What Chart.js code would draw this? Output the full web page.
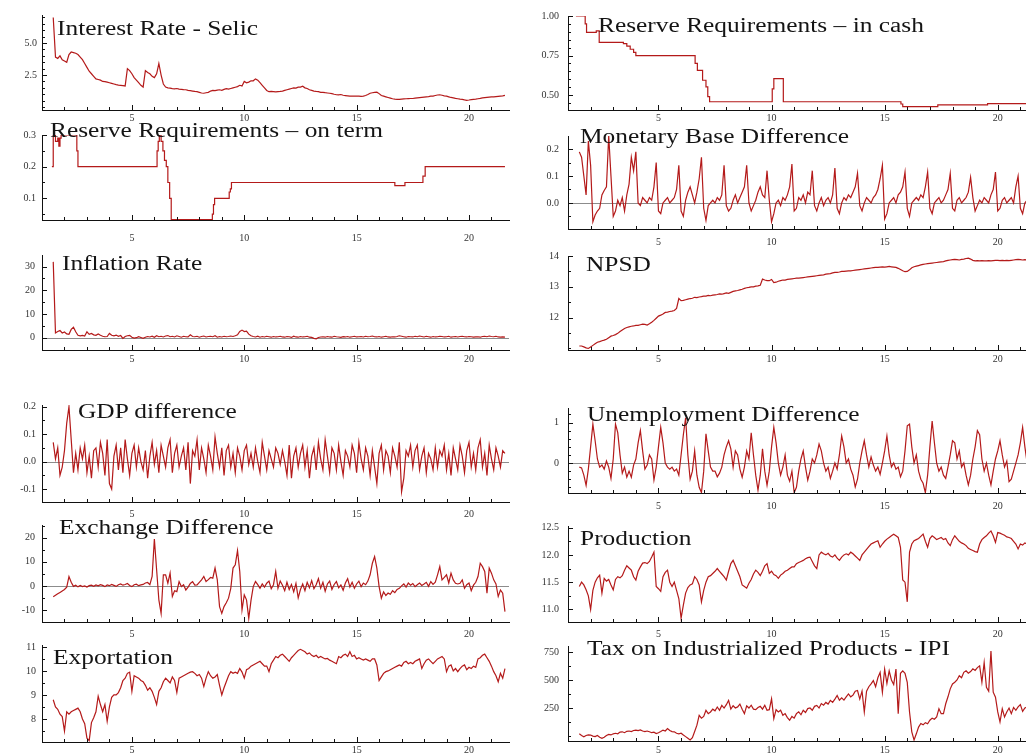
<!DOCTYPE html>
<html><head><meta charset="utf-8">
<script src="https://cdn.jsdelivr.net/npm/chart.js@4.4.1/dist/chart.umd.min.js"></script>
<style>
html,body{margin:0;padding:0;background:#fff;width:1026px;height:754px;overflow:hidden;position:relative}
canvas{position:absolute}
.ttl{position:absolute;font-family:'Liberation Serif','Times New Roman',serif;font-size:20px;line-height:20px;color:#141414;white-space:nowrap;transform-origin:0 0;transform:scaleX(1.27);z-index:2}
</style></head><body>
<script>
// ---- shared time axis (years index) ----
const t = [
1.5,1.6,1.7,1.8,1.9,2.0,2.1,2.2,2.3,2.4,
2.5,2.6,2.7,2.8,2.9,3.0,3.1,3.2,3.3,3.4,
3.5,3.6,3.7,3.8,3.9,4.0,4.1,4.2,4.3,4.4,
4.5,4.6,4.7,4.8,4.9,5.0,5.1,5.2,5.3,5.4,
5.5,5.6,5.7,5.8,5.9,6.0,6.1,6.2,6.3,6.4,
6.5,6.6,6.7,6.8,6.9,7.0,7.1,7.2,7.3,7.4,
7.5,7.6,7.7,7.8,7.9,8.0,8.1,8.2,8.3,8.4,
8.5,8.6,8.7,8.8,8.9,9.0,9.1,9.2,9.3,9.4,
9.5,9.6,9.7,9.8,9.9,10.0,10.1,10.2,10.3,10.4,
10.5,10.6,10.7,10.8,10.9,11.0,11.1,11.2,11.3,11.4,
11.5,11.6,11.7,11.8,11.9,12.0,12.1,12.2,12.3,12.4,
12.5,12.6,12.7,12.8,12.9,13.0,13.1,13.2,13.3,13.4,
13.5,13.6,13.7,13.8,13.9,14.0,14.1,14.2,14.3,14.4,
14.5,14.6,14.7,14.8,14.9,15.0,15.1,15.2,15.3,15.4,
15.5,15.6,15.7,15.8,15.9,16.0,16.1,16.2,16.3,16.4,
16.5,16.6,16.7,16.8,16.9,17.0,17.1,17.2,17.3,17.4,
17.5,17.6,17.7,17.8,17.9,18.0,18.1,18.2,18.3,18.4,
18.5,18.6,18.7,18.8,18.9,19.0,19.1,19.2,19.3,19.4,
19.5,19.6,19.7,19.8,19.9,20.0,20.1,20.2,20.3,20.4,
20.5,20.6,20.7,20.8,20.9,21.0,21.1,21.2,21.3,21.4,
21.5,21.6];
const xTicks = [5, 10, 15, 20];

// ---- series ----
const selic = [
7.0,3.9,3.8,4.0,3.7,3.6,3.5,4.1,4.3,4.25,
4.2,4.1,3.9,3.7,3.4,3.1,2.8,2.6,2.4,2.2,
2.15,2.1,2.0,1.98,1.95,1.9,1.85,1.8,1.75,1.72,
1.7,1.68,1.65,3.0,2.85,2.6,2.3,2.1,1.9,1.7,
1.56,2.85,2.7,2.6,2.4,2.3,2.6,3.4,2.5,1.8,
1.56,1.5,1.48,1.44,1.42,1.45,1.4,1.38,1.36,1.35,
1.3,1.28,1.25,1.22,1.2,1.15,1.1,1.08,1.12,1.15,
1.25,1.3,1.28,1.32,1.35,1.3,1.38,1.44,1.4,1.45,
1.5,1.55,1.6,1.7,1.65,2.0,1.9,1.95,2.05,2.05,
2.2,2.1,1.9,1.7,1.5,1.3,1.2,1.22,1.2,1.18,
1.2,1.22,1.25,1.3,1.35,1.4,1.45,1.5,1.48,1.56,
1.56,1.63,1.5,1.45,1.35,1.3,1.25,1.22,1.2,1.15,
1.15,1.12,1.1,1.08,1.05,1.0,0.96,0.95,0.98,0.92,
0.9,0.88,0.86,0.85,0.86,0.85,0.85,0.84,0.85,0.9,
0.98,1.08,1.12,1.15,1.16,1.05,0.9,0.85,0.8,0.75,
0.7,0.65,0.62,0.6,0.6,0.62,0.64,0.65,0.66,0.67,
0.67,0.7,0.72,0.74,0.76,0.78,0.8,0.82,0.85,0.85,
0.9,0.94,0.96,0.92,0.88,0.85,0.8,0.75,0.72,0.68,
0.65,0.62,0.6,0.56,0.53,0.55,0.58,0.6,0.62,0.65,
0.68,0.72,0.74,0.76,0.78,0.8,0.8,0.82,0.84,0.86,
0.88,0.91];

const rrTermX = [1.44,1.5,1.6,1.7,1.75,1.8,1.85,2.55,2.6,6.12,6.17,6.22,6.3,6.38,6.45,6.53,6.6,6.68,6.75,8.58,8.63,8.68,9.33,9.38,9.43,16.7,17.15,17.95,18.05,21.6];
const rrTermY = [0.2,0.3,0.28,0.29,0.265,0.29,0.3,0.25,0.2,0.25,0.28,0.3,0.28,0.25,0.22,0.2,0.15,0.1,0.033,0.05,0.08,0.1,0.12,0.13,0.15,0.14,0.15,0.17,0.2,0.2];

const inflation = [
32,2.0,2.6,3.0,2.0,2.4,1.6,1.4,3.5,4.4,
2.5,1.0,0.8,1.0,0.7,2.5,1.4,1.8,1.2,1.0,
1.6,1.0,0.6,0.4,0.5,1.8,1.0,0.8,1.1,0.6,
0.9,-0.3,0.5,0.8,1.0,0.2,-0.2,0.0,0.4,0.1,
-0.3,0.2,0.5,0.3,0.6,0.2,0.8,0.4,0.6,0.3,
0.7,0.9,0.4,0.6,0.3,0.8,0.5,0.2,0.6,0.4,
0.3,1.2,0.5,0.4,0.6,0.2,0.5,0.7,0.3,0.5,
0.6,0.4,0.8,0.2,0.5,0.3,0.6,0.4,0.5,0.7,
0.5,0.8,1.2,2.6,3.2,2.6,2.8,1.5,0.8,0.5,
0.3,0.6,0.2,0.5,0.3,0.6,0.4,0.2,0.5,0.3,
0.4,0.6,0.3,0.2,0.5,0.4,0.1,0.6,0.3,0.2,
0.5,0.3,0.4,0.6,0.2,0.1,-0.3,-0.5,0.1,0.3,
0.4,0.2,0.5,0.3,0.2,0.6,0.4,0.3,0.1,0.4,
0.3,0.5,0.2,0.4,0.6,0.3,0.4,0.5,0.3,0.6,
0.4,0.5,0.7,0.4,0.3,0.5,0.2,0.4,0.6,0.3,
0.2,0.4,0.3,0.5,0.8,0.6,0.4,0.2,0.5,0.4,
0.3,0.6,0.4,0.7,0.5,0.3,0.6,0.4,0.2,0.5,
0.3,0.4,0.6,0.5,0.3,0.4,0.6,0.2,0.4,0.5,
0.3,0.5,0.6,0.4,0.3,0.5,0.4,0.2,0.3,0.4,
0.2,0.5,0.6,0.4,0.7,0.5,0.4,0.6,0.3,0.2,
0.3,0.2];

const gdpDiff = [
0.07,0.01,0.05,-0.05,-0.02,0.04,0.14,0.2,0.08,-0.04,
0.03,-0.03,0.05,0.01,0.06,-0.04,0.02,-0.06,0.04,0.05,
-0.02,0.07,0.03,-0.05,0.08,-0.08,-0.1,0.02,0.06,-0.03,
0.05,-0.04,0.08,0.01,-0.05,0.03,0.06,-0.02,0.05,0.0,
-0.03,0.04,-0.06,0.02,0.07,-0.01,0.04,-0.04,0.06,0.02,
-0.02,0.05,0.08,-0.04,0.03,0.06,-0.02,0.02,0.05,-0.03,
0.07,-0.08,0.04,0.02,0.08,-0.03,0.05,0.01,-0.04,0.06,
0.02,-0.03,0.09,0.03,-0.02,0.05,-0.05,0.04,0.06,-0.02,
0.03,-0.04,0.05,0.02,-0.03,0.04,0.06,-0.01,0.03,-0.02,
0.05,0.0,-0.04,0.07,0.02,-0.03,0.04,0.01,-0.02,0.05,
0.03,-0.01,0.04,0.0,-0.05,0.06,-0.06,0.02,0.05,-0.02,
0.03,0.06,-0.02,0.04,-0.06,0.02,0.05,-0.03,0.07,0.01,
-0.03,0.08,0.02,-0.04,0.05,0.03,-0.03,0.06,0.0,-0.05,
0.04,0.02,-0.02,0.06,0.03,-0.04,0.07,0.01,-0.03,0.05,
0.02,-0.05,0.04,-0.02,-0.08,0.03,0.06,-0.03,0.04,0.02,
-0.04,0.05,0.02,-0.02,0.07,-0.11,-0.06,0.04,0.02,0.06,
-0.02,0.04,0.06,-0.03,0.02,0.05,-0.04,0.03,0.01,-0.03,
0.05,-0.02,0.04,0.02,0.06,-0.03,0.03,-0.05,0.05,0.01,
-0.03,0.06,0.02,-0.04,0.04,0.07,-0.02,0.03,-0.03,0.05,
0.08,-0.02,0.03,-0.05,0.06,0.01,-0.03,0.05,0.02,-0.02,
0.04,0.03];

const exchDiff = [
-4.5,-3.9,-3.3,-2.7,-2.1,-1.5,-0.5,3.9,1.5,-0.2,
0.3,-0.4,0.2,-0.3,0.0,-0.5,0.1,0.3,-0.2,0.4,
0.0,0.5,0.2,-0.3,0.4,0.1,0.6,0.2,-0.2,0.5,
0.8,0.3,0.6,1.0,0.2,-0.3,0.5,0.7,0.1,0.4,
0.6,1.2,1.4,0.5,3.9,19.5,6.7,-5.8,-11.4,4.6,
4.6,1.1,5.3,-4.4,-2.0,-2.4,1.8,-0.3,0.5,-1.7,
-0.5,1.0,1.8,0.3,0.4,1.5,2.5,3.9,1.8,2.6,
3.5,3.2,7.4,2.5,-8.6,-11.4,-8.6,-7.0,-5.1,-1.0,
7.4,8.8,14.7,6.0,-10,-3.75,-5.8,-13.5,-6.0,-0.3,
1.8,0.5,-1.0,0.8,-0.5,1.1,2.0,-1.2,0.5,6.0,
-1.0,2.0,0.3,-2.0,1.5,-1.5,0.6,-2.5,1.0,-5.0,
-1.5,0.8,-2.0,1.5,-0.8,2.2,-1.2,0.5,3.0,-1.0,
1.5,-2.2,0.8,2.0,-1.5,0.6,1.8,-0.8,0.4,-1.8,
1.2,3.0,-0.5,1.5,-1.0,0.8,2.0,-0.3,1.2,0.5,
2.0,4.6,9.4,12.2,7.4,-0.3,-5.1,-2.5,-4.0,-3.0,
-3.5,-2.0,-2.8,-1.5,-1.0,0.0,0.8,-0.5,1.2,0.3,
1.0,-0.3,0.5,1.2,0.2,0.8,1.5,-0.2,1.8,0.6,
1.5,4.6,8.0,2.5,3.5,4.6,1.2,5.3,2.5,1.1,
0.8,1.1,2.5,-1.0,0.5,1.2,-2.0,0.3,1.5,3.9,
9.4,8.0,6.0,-3.0,7.4,5.3,2.5,0.8,-4.4,-1.7,
-3.0,-10.7];

const exportation = [
8.8,8.5,8.4,8.2,8.1,7.5,8.3,8.2,8.3,8.35,
8.4,8.45,8.3,8.0,7.8,7.2,7.1,7.85,8.05,8.3,
8.95,8.6,8.3,8.6,7.9,8.5,8.9,9.0,9.0,9.1,
9.3,9.6,9.7,9.9,9.95,9.15,9.8,9.75,9.7,9.6,
9.55,9.4,9.2,9.3,9.15,8.9,8.6,9.15,9.3,9.55,
9.7,9.6,9.5,9.75,9.6,9.1,9.7,9.75,9.8,9.85,
9.9,9.95,9.97,9.9,9.8,9.85,9.7,9.35,9.7,9.97,
9.8,9.7,9.75,9.85,9.4,9.0,9.3,9.55,9.8,9.97,
9.9,9.95,9.9,10.1,9.95,9.7,10.05,10.1,10.2,10.25,
10.3,10.35,10.4,10.3,10.2,10.2,9.97,10.3,10.45,10.6,
10.55,10.65,10.7,10.6,10.5,10.4,10.55,10.65,10.75,10.85,
10.9,10.85,10.8,10.7,10.75,10.65,10.6,10.65,10.55,10.6,
10.55,10.5,10.52,10.45,10.4,10.35,10.3,10.6,10.55,10.65,
10.7,10.6,10.8,10.6,10.65,10.5,10.55,10.5,10.45,10.5,
10.45,10.4,10.5,10.5,10.25,9.6,9.75,9.9,9.97,10.0,
10.05,10.1,10.15,10.2,10.25,10.2,10.35,10.4,10.3,10.35,
10.3,10.4,10.45,10.5,10.1,10.3,10.45,10.5,10.4,10.3,
10.4,10.5,10.55,10.6,10.5,9.97,10.2,10.25,10.0,10.1,
9.97,10.1,10.2,10.25,10.05,10.15,10.1,10.2,10.15,10.5,
10.55,10.65,10.7,10.55,10.4,10.2,9.97,9.8,9.55,9.9,
9.7,10.1];

const rrCashX = [1.35,1.76,1.82,2.25,2.38,3.45,3.6,3.75,3.9,4.0,6.62,6.72,6.95,7.1,7.18,7.26,10.03,10.1,10.52,15.72,15.8,17.35,19.55,21.8];
const rrCashY = [1.0,0.95,0.896,0.906,0.833,0.825,0.81,0.79,0.77,0.75,0.70,0.656,0.594,0.552,0.49,0.458,0.54,0.604,0.458,0.444,0.427,0.438,0.446,0.446];

const monBaseDiff = [
0.19,0.17,0.10,0.03,0.23,0.14,-0.07,-0.045,-0.03,-0.02,
0.03,0.046,0.06,0.25,0.1,-0.05,-0.03,0.01,-0.01,0.02,
-0.03,0.03,0.07,0.17,0.12,0.19,0.0,-0.01,0.02,0.01,
0.0,0.02,0.01,0.06,0.15,-0.03,-0.04,0.0,0.01,0.02,
0.0,0.01,0.02,0.05,0.14,-0.03,-0.05,0.01,0.04,0.06,
0.03,0.0,0.04,0.09,0.17,-0.02,-0.065,-0.01,0.0,0.01,
0.0,0.02,0.01,0.03,0.14,-0.01,-0.03,-0.02,0.01,0.03,
0.0,0.02,0.04,0.06,0.14,0.0,-0.03,-0.01,0.01,0.04,
0.06,0.03,0.02,0.12,0.01,-0.07,-0.04,0.0,0.01,-0.01,
0.02,0.01,0.03,0.06,0.145,-0.03,-0.02,0.02,0.01,0.03,
0.0,0.04,0.03,0.12,-0.01,-0.03,0.0,0.02,-0.01,0.01,
0.02,0.0,0.03,0.13,-0.02,-0.04,0.0,0.02,0.01,0.03,
0.02,0.04,0.06,0.11,-0.01,-0.03,0.0,0.02,0.01,0.0,
0.02,0.03,0.05,0.09,0.14,-0.06,-0.04,0.0,0.01,0.02,
0.0,0.03,0.04,0.06,0.115,-0.02,-0.05,0.0,0.01,0.02,
0.01,0.03,0.02,0.06,0.115,-0.02,-0.04,0.0,0.01,0.02,
0.0,0.01,0.03,0.05,0.11,-0.02,-0.03,0.01,0.02,0.0,
0.01,0.02,0.04,0.095,0.02,-0.03,-0.01,0.01,0.0,0.02,
0.01,0.0,0.03,0.05,0.115,-0.03,-0.02,0.01,0.02,0.0,
0.01,0.02,0.0,0.06,0.1,-0.02,-0.04,0.0,0.01,0.02,
0.01,0.02];

const npsd = [
11.08,11.08,11.05,11.02,11.0,11.05,11.1,11.15,11.2,11.22,
11.25,11.27,11.3,11.35,11.4,11.42,11.45,11.49,11.55,11.6,
11.65,11.68,11.7,11.72,11.73,11.75,11.75,11.77,11.79,11.78,
11.76,11.8,11.85,11.91,11.98,12.05,12.08,12.12,12.17,12.18,
12.2,12.21,12.23,12.3,12.62,12.55,12.56,12.58,12.6,12.62,
12.63,12.66,12.65,12.67,12.68,12.7,12.7,12.72,12.71,12.73,
12.74,12.75,12.77,12.76,12.78,12.8,12.79,12.82,12.85,12.87,
12.88,12.9,12.92,12.95,12.97,12.98,13.0,13.0,13.02,13.03,
13.05,13.25,13.22,13.2,13.2,13.24,13.14,13.15,13.18,13.2,
13.22,13.22,13.24,13.25,13.26,13.27,13.28,13.28,13.29,13.3,
13.31,13.32,13.33,13.34,13.35,13.36,13.37,13.38,13.39,13.41,
13.42,13.43,13.45,13.47,13.47,13.48,13.5,13.5,13.51,13.52,
13.52,13.53,13.54,13.55,13.56,13.57,13.58,13.59,13.6,13.61,
13.62,13.63,13.63,13.64,13.65,13.64,13.65,13.66,13.65,13.64,
13.63,13.6,13.56,13.52,13.49,13.5,13.55,13.62,13.65,13.67,
13.69,13.71,13.73,13.74,13.75,13.76,13.77,13.78,13.79,13.8,
13.81,13.82,13.84,13.86,13.87,13.88,13.89,13.88,13.87,13.89,
13.9,13.92,13.93,13.9,13.86,13.84,13.85,13.84,13.85,13.84,
13.84,13.85,13.84,13.85,13.86,13.86,13.85,13.86,13.85,13.86,
13.85,13.86,13.87,13.88,13.89,13.88,13.87,13.88,13.87,13.88,
13.88,13.89];

const unempDiff = [
-0.1,-0.12,-0.3,-0.55,-0.15,0.4,0.96,0.55,0.1,-0.1,
-0.05,-0.15,0.05,-0.1,-0.38,0.1,0.96,0.75,0.2,-0.25,
-0.1,-0.35,-0.2,-0.35,-0.05,0.1,0.5,0.8,0.3,-0.15,
-0.05,0.2,0.1,-0.42,-0.1,0.4,0.88,0.5,0.0,-0.1,
-0.15,-0.1,-0.2,-0.15,-0.3,0.2,0.7,1.12,0.2,-0.4,
-0.2,0.3,-0.3,-0.6,-0.73,-0.2,0.72,0.3,-0.1,-0.2,
-0.2,-0.34,-0.25,-0.1,0.2,0.4,0.55,0.35,-0.1,0.3,
0.2,-0.15,-0.35,-0.1,0.3,0.1,0.75,0.2,-0.3,-0.67,
-0.3,0.35,-0.2,-0.55,-0.2,0.4,0.88,0.5,0.0,-0.3,
-0.1,0.2,-0.3,-0.45,-0.2,-0.73,-0.6,-0.2,0.1,0.3,
-0.1,-0.42,-0.2,0.1,0.0,0.2,0.47,0.3,0.0,-0.2,
-0.1,-0.38,-0.2,0.0,-0.15,0.2,0.67,0.4,0.0,0.1,
-0.15,-0.3,-0.59,-0.4,0.0,0.3,0.55,0.2,-0.1,0.15,
-0.05,-0.2,-0.1,-0.28,0.0,0.3,0.67,0.2,-0.1,0.0,
-0.15,-0.1,-0.34,-0.2,0.3,0.92,0.96,0.4,0.0,0.2,
-0.2,-0.4,-0.5,-0.73,-0.3,0.4,1.04,0.5,0.0,-0.2,
-0.1,-0.3,-0.38,-0.1,0.2,0.55,0.5,0.1,0.3,-0.1,
0.0,-0.3,-0.54,-0.3,0.1,0.4,0.8,0.7,0.1,-0.2,
0.0,-0.3,-0.54,-0.2,0.1,0.3,0.55,0.2,-0.1,0.05,
-0.46,-0.4,-0.2,0.0,0.2,0.5,0.88,0.4,0.0,-0.2,
-0.1,0.1];

const production = [
11.42,11.5,11.45,11.36,11.25,11.0,11.35,11.5,11.58,11.63,
11.3,11.57,11.52,11.55,11.45,11.36,11.55,11.6,11.58,11.62,
11.72,11.8,11.76,11.72,11.6,11.54,11.7,11.78,11.85,11.86,
11.84,11.88,11.96,12.05,11.42,11.38,11.33,11.6,11.68,11.72,
11.5,11.42,11.5,11.35,11.2,10.84,11.08,11.3,11.4,11.45,
11.47,11.6,11.55,11.45,11.14,11.35,11.5,11.6,11.62,11.66,
11.7,11.75,11.7,11.65,11.6,11.54,11.7,11.84,11.9,11.8,
11.7,11.6,11.45,11.42,11.39,11.48,11.55,11.65,11.72,11.68,
11.62,11.7,11.8,11.84,11.66,11.7,11.64,11.62,11.57,11.63,
11.66,11.7,11.72,11.75,11.78,11.78,11.84,11.86,11.88,11.9,
11.93,11.95,11.96,11.88,11.8,11.75,12.0,12.05,12.02,12.0,
12.03,11.98,11.96,12.0,11.94,11.9,11.96,12.0,12.02,12.0,
12.05,12.02,11.98,11.94,11.9,12.0,12.05,12.1,12.15,12.2,
12.22,12.24,12.26,12.14,12.2,12.25,12.29,12.32,12.35,12.38,
12.35,12.32,12.14,11.54,11.5,11.14,12.05,12.2,12.26,12.28,
12.3,12.34,12.38,12.25,12.14,12.3,12.35,12.32,12.28,12.3,
12.32,12.28,12.3,12.22,12.17,12.28,12.35,12.3,12.25,12.22,
12.2,12.17,12.12,12.1,12.08,12.06,12.05,12.2,12.28,12.32,
12.35,12.4,12.44,12.35,12.23,12.41,12.4,12.38,12.36,12.33,
12.32,12.3,12.25,12.2,12.11,12.2,12.18,12.22,12.2,12.24,
12.22,12.25];

const ipi = [
20,5,-6,5,10,9,0,-5,5,-10,
-20,-10,5,15,10,20,25,20,35,38,
30,42,45,40,50,53,48,55,45,40,
45,38,30,35,23,30,40,53,45,67,
50,40,38,25,20,25,9,-5,-20,-35,
-15,40,97,185,160,175,229,200,215,240,
225,259,230,273,250,280,318,240,270,250,
260,285,240,200,270,250,275,240,235,255,
265,240,275,230,235,332,156,235,215,230,
185,200,165,141,175,160,200,215,190,230,
210,245,250,230,265,273,250,290,275,300,
285,318,300,330,362,320,340,320,350,376,
350,365,400,406,330,400,215,400,440,465,
494,440,520,568,391,597,470,582,500,460,
597,200,560,582,560,479,215,38,-35,20,
80,112,100,120,110,141,160,150,171,244,
200,200,288,350,421,465,480,500,538,520,
568,582,560,575,600,585,610,626,480,656,
435,400,759,391,347,215,126,244,170,215,
250,200,255,230,260,280,220,250,260,240,
250,260];

// ---- y tick values and labels ----
const selicTicks = [2.5, 5.0],            selicLabels = ['2.5','5.0'];
const rrTermTicks = [0.1, 0.2, 0.3],       rrTermLabels = ['0.1','0.2','0.3'];
const inflTicks = [0, 10, 20, 30],         inflLabels = ['0','10','20','30'];
const gdpTicks = [-0.1, 0, 0.1, 0.2],      gdpLabels = ['-0.1','0.0','0.1','0.2'];
const exchTicks = [-10, 0, 10, 20],        exchLabels = ['-10','0','10','20'];
const expTicks = [8, 9, 10, 11],           expLabels = ['8','9','10','11'];
const rrCashTicks = [0.5, 0.75, 1.0],      rrCashLabels = ['0.50','0.75','1.00'];
const mbTicks = [0, 0.1, 0.2],             mbLabels = ['0.0','0.1','0.2'];
const npsdTicks = [12, 13, 14],            npsdLabels = ['12','13','14'];
const unTicks = [0, 1],                    unLabels = ['0','1'];
const prodTicks = [11.0, 11.5, 12.0, 12.5],prodLabels = ['11.0','11.5','12.0','12.5'];
const ipiTicks = [250, 500, 750],          ipiLabels = ['250','500','750'];

// ---- layout (pixels) ----
const LINE = '#b41a1a';
const YW = 40, PT = 14, PR = 6, XH = 24;
const panels = [
 {title:'Interest Rate - Selic', tx:57, tb:35, L:42, R:509, T:15, B:110, yMin:-0.23, yMax:7.19, xs:t, ys:selic, tk:selicTicks, tl:selicLabels, minor:0.5, xPad:2, yPad:5},
 {title:'Reserve Requirements \u2013 on term', tx:50, tb:137, L:42, R:509, T:135, B:220, yMin:0.0315, yMax:0.3, xs:rrTermX, ys:rrTermY, step:true, tk:rrTermTicks, tl:rrTermLabels, minor:0.05, xPad:12, yPad:6},
 {title:'Inflation Rate', tx:62, tb:270, L:42, R:509, T:255, B:350, yMin:-5.2, yMax:34.9, xs:t, ys:inflation, tk:inflTicks, tl:inflLabels, minor:5, xPad:3, yPad:7, zero:true},
 {title:'GDP difference', tx:78, tb:418, L:42, R:509, T:405, B:502, yMin:-0.147, yMax:0.206, xs:t, ys:gdpDiff, tk:gdpTicks, tl:gdpLabels, minor:0.05, xPad:6, yPad:6, zero:true},
 {title:'Exchange Difference', tx:59, tb:534, L:42, R:509, T:525, B:622, yMin:-15.0, yMax:25.3, xs:t, ys:exchDiff, tk:exchTicks, tl:exchLabels, minor:5, xPad:6, yPad:7, zero:true},
 {title:'Exportation', tx:53, tb:664, L:42, R:509, T:645, B:742, yMin:7.04, yMax:11.08, xs:t, ys:exportation, tk:expTicks, tl:expLabels, minor:0.5, xPad:2, yPad:6},
 {title:'Reserve Requirements \u2013 in cash', tx:598, tb:32, L:568, R:1038, T:15, B:110, yMin:0.406, yMax:1.0, xs:rrCashX, ys:rrCashY, step:true, tk:rrCashTicks, tl:rrCashLabels, minor:0.05, xPad:2, yPad:9},
 {title:'Monetary Base Difference', tx:580, tb:143, L:568, R:1038, T:135, B:229, yMin:-0.097, yMax:0.249, xs:t, ys:monBaseDiff, tk:mbTicks, tl:mbLabels, minor:0.05, xPad:7, yPad:9, zero:true},
 {title:'NPSD', tx:586, tb:271, L:568, R:1038, T:255, B:350, yMin:10.95, yMax:14.0, xs:t, ys:npsd, tk:npsdTicks, tl:npsdLabels, minor:0.5, xPad:3, yPad:9},
 {title:'Unemployment Difference', tx:587, tb:421, L:568, R:1038, T:407, B:493, yMin:-0.74, yMax:1.36, xs:t, ys:unempDiff, tk:unTicks, tl:unLabels, minor:0.2, xPad:7, yPad:9, zero:true},
 {title:'Production', tx:580, tb:545, L:568, R:1038, T:525, B:622, yMin:10.77, yMax:12.53, xs:t, ys:production, tk:prodTicks, tl:prodLabels, minor:0.25, xPad:6, yPad:9},
 {title:'Tax on Industrialized Products - IPI', tx:587, tb:655, L:568, R:1038, T:645, B:741, yMin:-44, yMax:803, xs:t, ys:ipi, tk:ipiTicks, tl:ipiLabels, minor:125, xPad:3, yPad:9}
];

const mmaTicks = {
  id: 'mmaTicks',
  beforeDatasetsDraw(chart, args, o) {
    if (!o.zero) return;
    const {ctx, chartArea: a} = chart;
    const py = Math.round(chart.scales.y.getPixelForValue(0)) + 0.5;
    ctx.save(); ctx.strokeStyle = '#8c8c8c'; ctx.lineWidth = 1;
    ctx.beginPath(); ctx.moveTo(a.left, py); ctx.lineTo(a.right, py); ctx.stroke(); ctx.restore();
  },
  afterDraw(chart, args, o) {
    const {ctx, chartArea: a} = chart;
    const x = chart.scales.x, y = chart.scales.y;
    ctx.save(); ctx.strokeStyle = '#111'; ctx.lineWidth = 1; ctx.beginPath();
    for (let v = Math.ceil(x.min); v <= x.max; v++) {
      const px = Math.round(x.getPixelForValue(v)) + 0.5;
      const len = o.xMajor.includes(v) ? 5 : 3;
      ctx.moveTo(px, a.bottom); ctx.lineTo(px, a.bottom - len);
    }
    const st = o.minor;
    const k0 = Math.ceil(y.min / st - 1e-6);
    for (let k = k0; k * st <= y.max + 1e-9; k++) {
      const v = k * st;
      const major = o.yMajor.some(m => Math.abs(m - v) < st / 10);
      const py = Math.round(y.getPixelForValue(v)) + 0.5;
      ctx.moveTo(a.left, py); ctx.lineTo(a.left + (major ? 5 : 3), py);
    }
    ctx.stroke(); ctx.restore();
  }
};

const tickFont = {family: "'Liberation Serif', 'Times New Roman', serif", size: 10};

panels.forEach(p => {
  const cv = document.createElement('canvas');
  const w = p.R - p.L + YW + PR, h = p.B - p.T + PT + XH;
  cv.width = w; cv.height = h;
  cv.style.left = (p.L - YW) + 'px'; cv.style.top = (p.T - PT) + 'px';
  cv.style.width = w + 'px'; cv.style.height = h + 'px';
  document.body.appendChild(cv);

  const d = document.createElement('div');
  d.className = 'ttl'; d.textContent = p.title;
  d.style.left = p.tx + 'px'; d.style.top = (p.tb - 17) + 'px';
  document.body.appendChild(d);

  new Chart(cv, {
    type: 'line',
    data: { datasets: [{
      data: p.xs.map((xv, i) => ({x: xv, y: p.ys[i]})),
      borderColor: LINE, borderWidth: 1.2, pointRadius: 0, tension: 0,
      stepped: p.step ? 'before' : false, fill: false
    }]},
    options: {
      responsive: false, animation: false, events: [],
      devicePixelRatio: 1,
      layout: { padding: { left: 0, top: PT, right: PR, bottom: 0 } },
      plugins: {
        legend: {display: false}, tooltip: {enabled: false},
        mmaTicks: { xMajor: xTicks, yMajor: p.tk, minor: p.minor, zero: !!p.zero }
      },
      scales: {
        x: {
          type: 'linear', min: 1, max: 21.78,
          grid: {display: false, drawTicks: false},
          border: {display: true, color: '#111', width: 1},
          afterBuildTicks: s => { s.ticks = xTicks.map(v => ({value: v})); },
          afterFit: s => { s.height = XH; },
          ticks: { padding: p.xPad, font: tickFont, color: '#333', maxRotation: 0, autoSkip: false, callback: v => String(v) }
        },
        y: {
          type: 'linear', min: p.yMin, max: p.yMax,
          grid: {display: false, drawTicks: false},
          border: {display: true, color: '#111', width: 1},
          afterBuildTicks: s => { s.ticks = p.tk.map(v => ({value: v})); },
          afterFit: s => { s.width = YW; },
          ticks: { padding: p.yPad, font: tickFont, color: '#333', autoSkip: false, callback: (v, i) => p.tl[i] }
        }
      }
    },
    plugins: [mmaTicks]
  });
});
</script>
</body></html>
